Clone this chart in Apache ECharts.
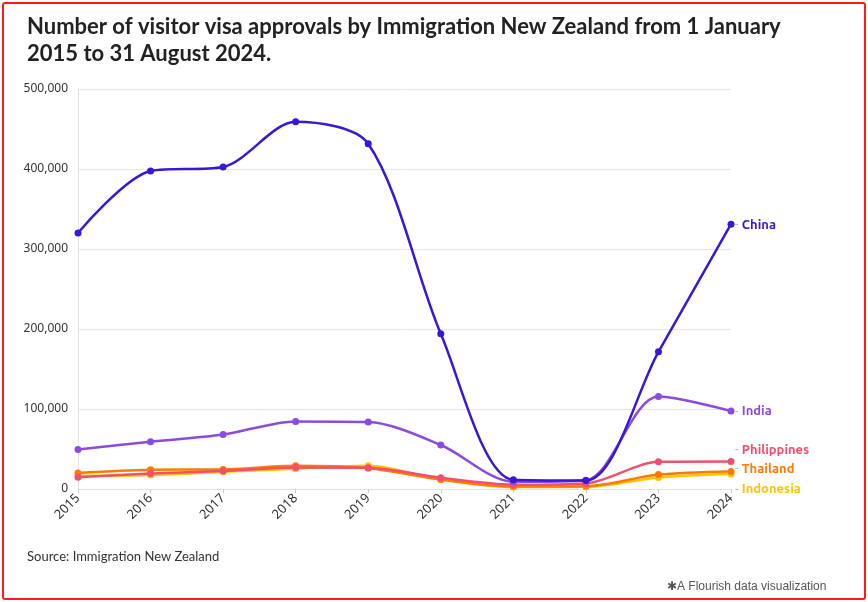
<!DOCTYPE html>
<html>
<head>
<meta charset="utf-8">
<script src="https://cdn.jsdelivr.net/npm/echarts@6/dist/echarts.min.js"></script>
<style>
html,body{margin:0;padding:0;background:#fff;}
#frame{position:absolute;left:2px;top:2px;width:860px;height:594px;border:2px solid #ff1a1a;border-radius:3px;}
#chart{position:absolute;left:0;top:0;width:868px;height:602px;}
</style>
</head>
<body>
<div id="chart"></div>
<div id="frame"></div>
<script>
const years = ['2015','2016','2017','2018','2019','2020','2021','2022','2023','2024'];
const china = [320000, 397500, 402500, 459000, 431500, 194000, 11500, 10500, 171500, 331000];
const india = [49500, 59000, 68000, 84500, 83700, 55000, 9000, 11000, 115500, 97500];
const philippines = [14600, 19500, 22500, 27000, 26500, 14000, 5400, 7000, 34000, 34500];
const thailand = [20000, 24000, 24500, 29000, 26000, 12000, 3000, 3500, 18000, 22000];
const indonesia = [16500, 17500, 21600, 25400, 29000, 11600, 2500, 2800, 14500, 18700];
const yTicks = [0, 100000, 200000, 300000, 400000, 500000];

const chart = echarts.init(document.getElementById('chart'), null, {renderer:'canvas'});

function mk(name, data, color, offY, z){
  return {
    name, type:'line', data, z,
    smooth:0.3,
    symbol:'circle', symbolSize:7,
    lineStyle:{width:2.5, color},
    itemStyle:{color},
    emphasis:{disabled:true},
    endLabel:{
      show:true, offset:[0, offY],
      formatter: () => '{d|-} {n|' + name + '}',
      rich:{
        d:{color:'#aaaaaa', fontSize:12, fontFamily:'Ubuntu, "Noto Sans", sans-serif'},
        n:{color, fontSize:13, fontWeight:'bold', fontFamily:'Ubuntu, "Noto Sans", sans-serif'}
      },
      distance:4
    }
  };
}

chart.setOption({
  animation:false,
  title:[{
    text:'Number of visitor visa approvals by Immigration New Zealand from 1 January\n2015 to 31 August 2024.',
    left:22, top:8,
    textStyle:{fontFamily:'"Source Sans Pro", Lato, "Noto Sans", sans-serif', fontSize:22, fontWeight:'bold', color:'#222', lineHeight:27}
  },{
    text:'Source: Immigration New Zealand',
    left:22, top:545,
    textStyle:{fontFamily:'"Source Sans Pro", Lato, "Noto Sans", sans-serif', fontSize:13, fontWeight:'normal', color:'#333'}
  },{
    text:'✱A Flourish data visualization',
    left:662, top:576,
    textStyle:{fontFamily:'"Liberation Sans", Arial, sans-serif', fontSize:12, fontWeight:'normal', color:'#555'}
  }],
  grid:{left:78, right:137, top:89, bottom:113, containLabel:false},
  xAxis:{
    type:'category', data:years, boundaryGap:false,
    axisLine:{show:true, lineStyle:{color:'#e2e2e2'}},
    axisTick:{show:true, alignWithLabel:true, length:4, lineStyle:{color:'#cccccc'}},
    axisLabel:{rotate:45, color:'#333', fontSize:13, fontFamily:'"Noto Sans", sans-serif', margin:7},
    splitLine:{show:false}
  },
  yAxis:{
    type:'value', min:0, max:500000, interval:100000,
    axisLine:{show:true, lineStyle:{color:'#e2e2e2'}},
    axisTick:{show:false},
    axisLabel:{color:'#333', fontSize:12, fontFamily:'"Noto Sans", sans-serif', margin:10,
      formatter: v => yTicks.includes(v) ? v.toLocaleString('en-US') : ''},
    splitLine:{lineStyle:{color:'#e6e6e6'}}
  },
  series:[
    mk('Indonesia', indonesia, '#ffc400', 15, 2),
    mk('Thailand', thailand, '#ff7a00', -3, 3),
    mk('Philippines', philippines, '#f0506e', -12, 4),
    mk('India', india, '#8a4be0', 0, 5),
    mk('China', china, '#3a17d4', 0, 6)
  ]
});
</script>
</body>
</html>
